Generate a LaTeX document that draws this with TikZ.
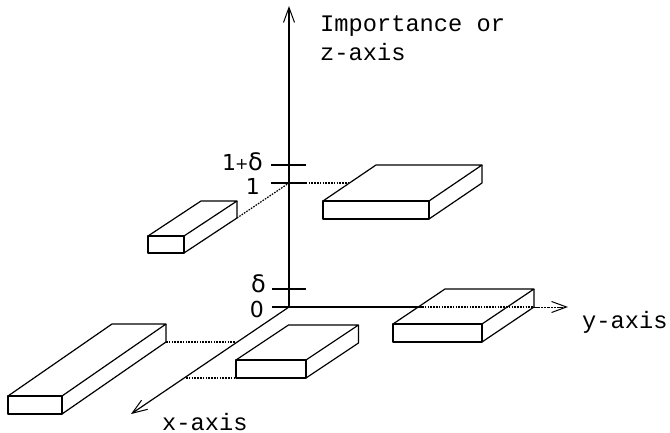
\documentclass[tikz,border=0pt]{standalone}
\usepackage{fontspec}
\setmonofont{Liberation Mono}
\newfontfamily\tickfont{DejaVu Sans}
\usetikzlibrary{arrows.meta}
\tikzset{
  x=1pt,y=-1pt,
  edge/.style={draw=black,line width=1.2pt,line join=round},
  tipstyle/.style={-{Straight Barb[length=15pt,width=11pt,line width=1pt]}},
  axisline/.style={draw=black,line width=1.2pt,tipstyle},
  tick/.style={draw=black,line width=1.1pt},
  dots/.style={draw=black,line width=1.2pt,dash pattern=on 1.6pt off 1.2pt},
  lab/.style={font=\ttfamily\fontsize{23.7}{28}\selectfont,inner sep=0pt,anchor=base west},
  num/.style={font=\tickfont\fontsize{22}{26}\selectfont,inner sep=0pt,anchor=base east}
}
\newcommand{\flatbox}[7]{% x0 x1 ytop ybottom dx dy prefix
  \coordinate (#7fl) at (#1,#3);
  \coordinate (#7fr) at (#2,#3);
  \coordinate (#7bl) at (#1,#4);
  \coordinate (#7br) at (#2,#4);
  \coordinate (#7tl) at (#1+#5,#3-#6);
  \coordinate (#7tr) at (#2+#5,#3-#6);
  \coordinate (#7rb) at (#2+#5,#4-#6);
  \draw[edge] (#7fl) -- (#7fr) -- (#7br) -- (#7bl) -- cycle;
  \draw[edge] (#7fl) -- (#7tl) -- (#7tr) -- (#7fr);
  \draw[edge] (#7tr) -- (#7rb) -- (#7br);
}
\begin{document}
\begin{tikzpicture}
\useasboundingbox (0,0) rectangle (670,433);
\coordinate (o) at (289,307);
\coordinate (ztip) at (289,6);
\coordinate (xtip) at (131,414);
\coordinate (ysolid) at (422,307);
\coordinate (ytip) at (568,307);
\coordinate (zone) at (289,183);
\coordinate (dA) at (236,342);
\coordinate (dBa) at (186,378);
\coordinate (dD) at (350,183);
% axes
\draw[axisline] (o) -- (ztip);
\draw[axisline] (o) -- (xtip);
\draw[tick] (o) -- (ysolid);
% boxes
\flatbox{8}{62}{396}{414}{104}{72}{A}
\flatbox{236}{306}{360}{378}{52.5}{35}{B}
\flatbox{393}{482}{324}{342}{52}{35}{C}
\flatbox{323}{429}{201}{219}{53}{36}{D}
\flatbox{148}{184}{236}{253}{53}{35}{E}
% dotted guides
\draw[dots] (Arb) -- (dA);
\draw[dots] (dBa) -- (Bbl);
\draw[dots] (ysolid) -- (Crb);
\draw[dots] (zone) -- (dD);
\draw[dots] (Erb) -- (zone);
\draw[draw=black,line width=1pt,dash pattern=on 2.5pt off 0.8pt,tipstyle] (Crb) -- (ytip);
% ticks
\coordinate (t1a) at (271,165); \coordinate (t1b) at (306,165);
\coordinate (t2a) at (271,183); \coordinate (t2b) at (306,183);
\coordinate (t3a) at (272,289); \coordinate (t3b) at (306,289);
\coordinate (t4a) at (272,307);
\draw[tick] (t1a) -- (t1b);
\draw[tick,line width=1.5pt] (t2a) -- (t2b);
\draw[tick] (t3a) -- (t3b);
\draw[tick] (t4a) -- (o);
% labels
\node[num] (l1d) at (263,171) {1\kern-1pt\raisebox{1.5pt}{\fontsize{16}{16}\selectfont+}\kern-0.5pt{\fontsize{24}{26}\selectfont δ}};
\node[num] (l1) at (260,195) {1};
\node[num] (ld) at (266,292) {\fontsize{24}{26}\selectfont δ};
\node[num] (l0) at (264,317) {0};
\node[lab] (imp) at (320,32) {Importance or};
\node[lab] (zax) at (320,61) {z-axis};
\node[lab] (yax) at (582,328) {y-axis};
\node[lab] (xax) at (162,430) {x-axis};
\end{tikzpicture}
\end{document}
